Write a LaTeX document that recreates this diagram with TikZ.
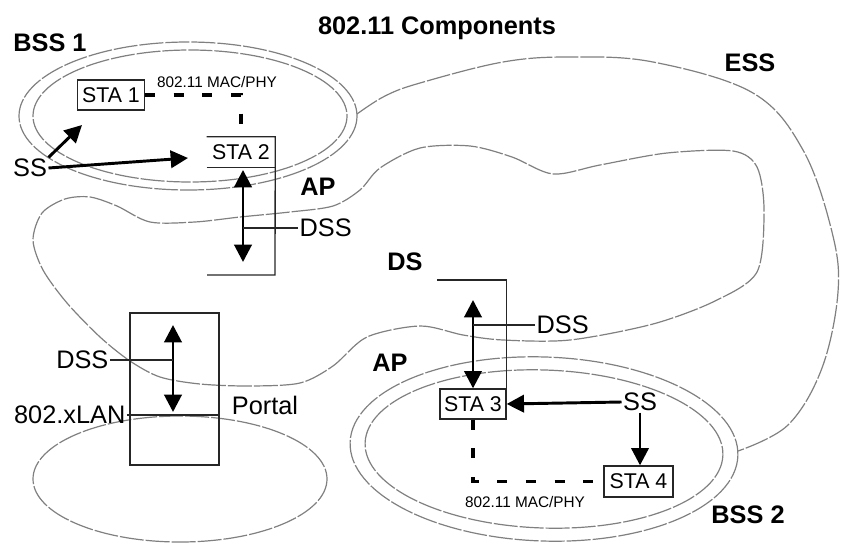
\documentclass[tikz,border=0pt]{standalone}
\usepackage{fontspec}
\setmainfont{Liberation Sans}
\usetikzlibrary{arrows.meta}
\tikzset{
  lbl/.style={font=\fontsize{19}{21}\selectfont\bfseries, inner sep=1pt},
  txt/.style={font=\fontsize{19}{20}\selectfont, inner sep=1pt},
  sta/.style={font=\fontsize{16}{18}\selectfont, inner sep=0pt, minimum width=50pt, minimum height=22.5pt},
  phytxt/.style={font=\fontsize{11.5}{12}\selectfont, inner sep=0pt},
  area/.style={draw=black!50, line width=0.9pt, dash pattern=on 18pt off 1.5pt},
  link/.style={draw=black!85, line width=1pt},
  arr/.style={line width=2.2pt, -{Triangle[length=13pt,width=13pt]}},
  darr/.style={line width=2.2pt, {Triangle[length=13pt,width=13pt]}-{Triangle[length=13pt,width=13pt]}},
  phy/.style={line width=2.8pt, dash pattern=on 7.5pt off 14pt}
}
\begin{document}
\begin{tikzpicture}[x=0.75pt,y=-0.75pt]
  \useasboundingbox (0,0) rectangle (842,546);
  %BSS, LAN areas:
  \draw[area] (188,116) ellipse [x radius=169, y radius=74];
  \draw[area] (190,116) ellipse [x radius=157, y radius=66];
  \draw[area, rotate around={-2:(544,449)}] (544,449) ellipse [x radius=194, y radius=92];
  \draw[area, rotate around={-2:(544,449)}] (544,449) ellipse [x radius=179, y radius=79];
  \draw[area] (180,479) ellipse [x radius=147, y radius=63];
  %DS, ESS:
  \draw[area] plot[smooth cycle, tension=0.5] coordinates {(33,240) (42,213) (65,199) (90,197) (117,206) (150,222) (195,222) (240,217) (290,212) (333,206) (360,190) (380,168) (420,148) (470,146) (512,157) (553,174) (600,165) (667,153) (733,151) (757,167) (764,210) (757,272) (715,301) (653,324) (570,340) (503,340) (463,335) (420,326) (367,337) (333,366) (300,383) (250,386) (200,384) (160,377) (130,361) (100,337) (67,303) (43,270)};
  \draw[area] plot[smooth, tension=0.6] coordinates {(357,114) (385,96) (420,83) (503,62) (570,57) (653,62) (753,93) (803,150) (832,232) (838,292) (822,368) (788,425) (738,451)};
  %Labels:
  \node[lbl] (title) at (437,28) {802.11 Components};
  \node[lbl] (bss1) at (50,43) {BSS 1};
  \node[lbl] (ess) at (750,63) {ESS};
  \node[lbl] (ap1) at (318,187) {AP};
  \node[lbl] (ds) at (405,262) {DS};
  \node[lbl] (ap2) at (390,363) {AP};
  \node[lbl] (bss2) at (748,515) {BSS 2};
  %BSS 1:
  \node[sta, draw, link] (sta1) at (111,95) {STA 1};
  \node[sta, minimum width=51pt] (sta2) at (241,152) {STA 2};
  \node[phytxt] (mac1) at (217,82) {802.11 MAC/PHY};
  \draw[phy] (sta1.east) -| (sta2.north);
  \node[txt] (ss1) at (30,168) {SS};
  \coordinate (tip1) at (82,125);
  \coordinate (tip2) at (188,158);
  \draw[arr] (ss1.north east) -- (tip1);
  \draw[arr] (ss1.east) -- (tip2);
  %AP 1:
  \coordinate (ap1br) at (275,275);
  \coordinate (ap1bl) at (207,275);
  \coordinate (ap1dn) at (243,262);
  \draw[link] (sta2.north west) -- (sta2.north east) -- (ap1br) -- (ap1bl);
  \draw[link] (sta2.south west) -- (sta2.south east);
  \draw[darr] ([yshift=-2pt]sta2.south -| ap1dn) -- (ap1dn);
  \node[txt, anchor=west] (dss1) at (298,228) {DSS};
  \draw[link] (dss1.west) -- (dss1.west -| ap1dn);
  %Portal:
  \node[draw, link, minimum width=66.75pt, minimum height=114pt] (portal) at (174.5,389) {};
  \node[txt, anchor=east] (lan) at (127,415) {802.xLAN};
  \draw[link] (lan.east) -- (lan.east -| portal.east);
  \node[txt] (portlbl) at (265,405) {Portal};
  \coordinate (pup) at (173,325);
  \coordinate (pdn) at (173,412);
  \draw[darr] (pup) -- (pdn);
  \node[txt, anchor=east] (dss3) at (110,360) {DSS};
  \draw[link] (dss3.east) -- (dss3.east -| pup);
  %AP 2, BSS 2:
  \node[sta, draw, link, minimum width=49.5pt] (sta3) at (473,404) {STA 3};
  \coordinate (ap2tl) at (437,280);
  \coordinate (ap2up) at (473,300);
  \draw[link] (ap2tl) -- (ap2tl -| sta3.east) -- (sta3.north east);
  \draw[darr] (ap2up) -- (sta3.north);
  \node[txt, anchor=west] (dss2) at (535,325) {DSS};
  \draw[link] (dss2.west) -- (dss2.west -| ap2up);
  \node[sta, draw, link, minimum width=51.75pt, minimum height=23.25pt] (sta4) at (638.5,481.5) {STA 4};
  \node[txt] (ss2) at (640,402) {SS};
  \draw[arr] (ss2.west) -- (sta3.east);
  \draw[arr] (ss2.south) -- (ss2.south |- sta4.north);
  \draw[phy] (sta3.south) |- (sta4.west);
  \node[phytxt] (mac2) at (525,502) {802.11 MAC/PHY};
\end{tikzpicture}
\end{document}
